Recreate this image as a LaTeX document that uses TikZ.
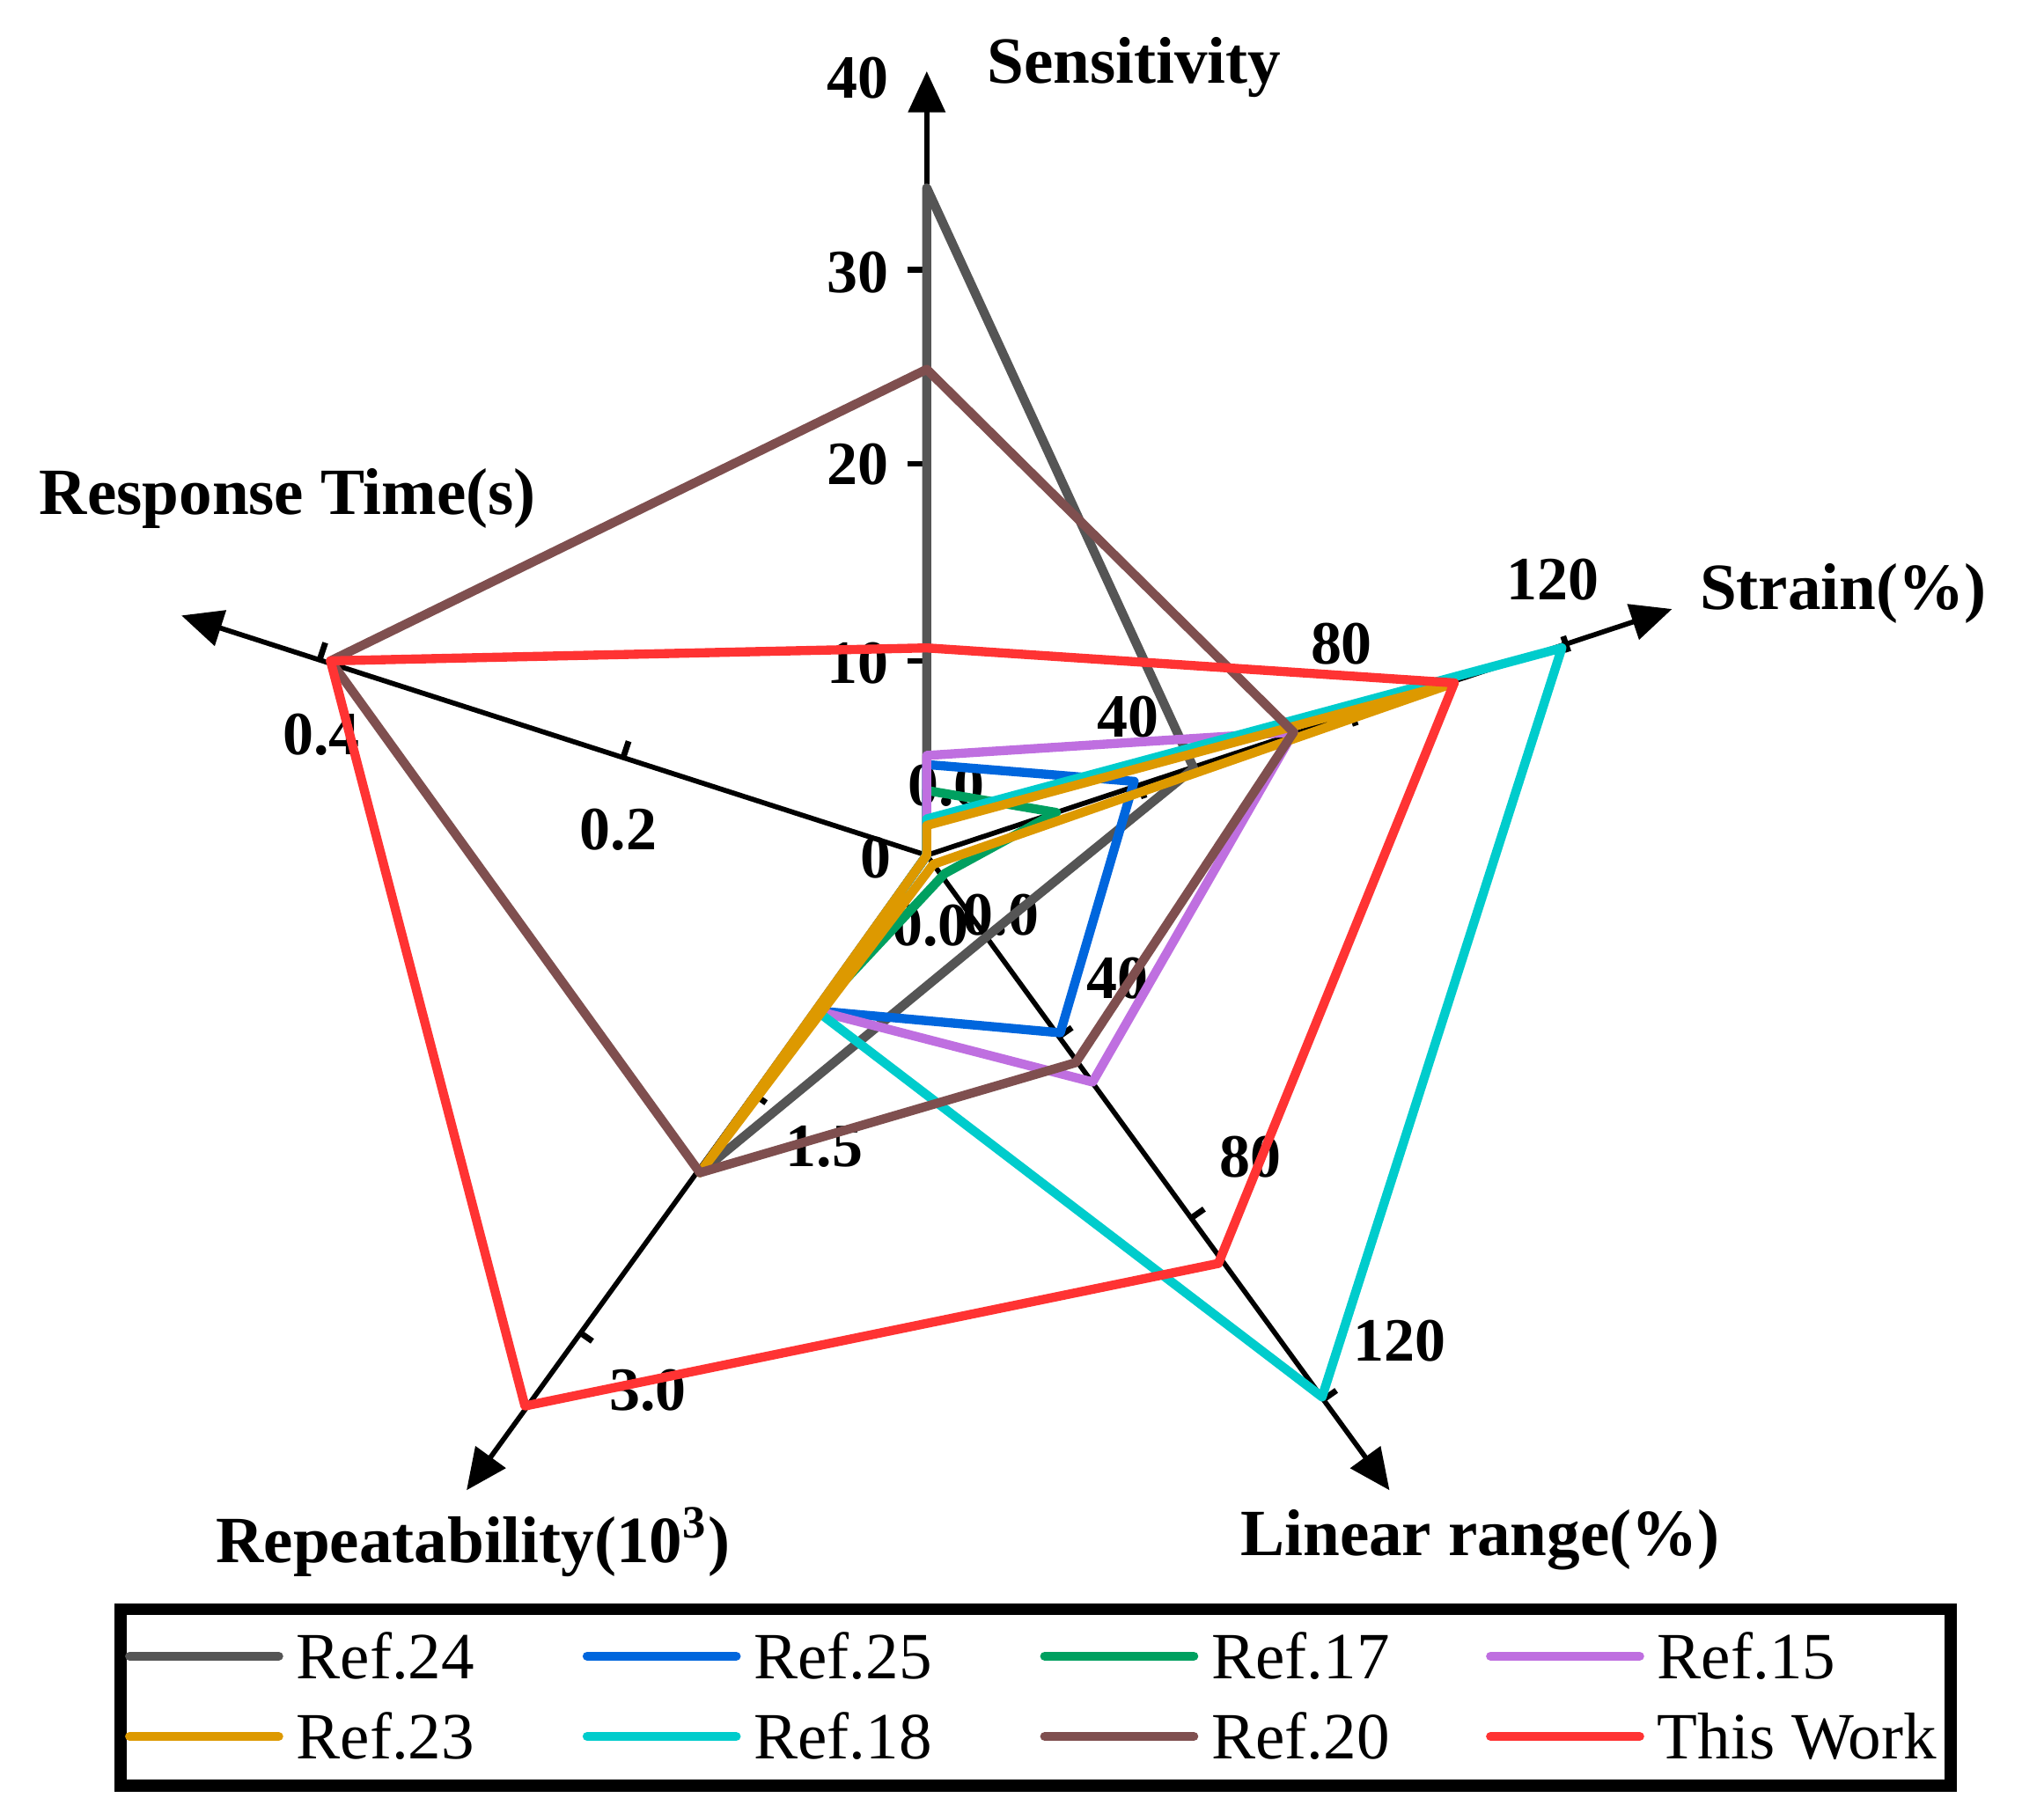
\documentclass[tikz,border=0pt]{standalone}
\usepackage{fontspec}
\setmainfont{Liberation Serif}
\usetikzlibrary{arrows.meta,calc}
\definecolor{cgray}{HTML}{555555}
\definecolor{cblue}{HTML}{0066DD}
\definecolor{cgreen}{HTML}{00A060}
\definecolor{cpurple}{HTML}{BF6FE0}
\definecolor{corange}{HTML}{DD9900}
\definecolor{ccyan}{HTML}{00CCCC}
\definecolor{cbrown}{HTML}{7F4F4F}
\definecolor{cred}{HTML}{FF3333}
\begin{document}
\begin{tikzpicture}[x=0.01cm,y=-0.01cm,
  axis/.style={line width=1.1pt,-{Triangle[length=9pt,width=8pt]}},
  tick/.style={line width=1.3pt},
  tl/.style={font=\bfseries\fontsize{13.5}{13.5}\selectfont,inner sep=0pt},
  al/.style={font=\bfseries\fontsize{14.5}{14.5}\selectfont,inner sep=0pt},
  leg/.style={font=\fontsize{14.5}{14.5}\selectfont,inner sep=0pt,anchor=west},
  data/.style={line width=2pt,line join=round,line cap=round}]
\useasboundingbox (0,0) rectangle (1560,1404);
% axes
\coordinate (O) at (715,660);
\coordinate (tS) at (715,55);
\coordinate (tT) at (1290,470);
\coordinate (tL) at (1072,1150);
\coordinate (tR) at (360,1150);
\coordinate (tP) at (140,475);
% tick labels (behind data)
\node[tl] (s40) at (662,60) {40};
\node[tl] (s30) at (662,210) {30};
\node[tl] (s20) at (662,358) {20};
\node[tl] (s10) at (662,512) {10};
\node[tl] (s0) at (676,662) {0};
\node[tl] (st0) at (730,606) {0.0};
\node[tl] (st40) at (870,553) {40};
\node[tl] (st80) at (1035,497) {80};
\node[tl] (st120) at (1198,447) {120};
\node[tl] (l0) at (772,706) {0.0};
\node[tl] (l40) at (862,755) {40};
\node[tl] (l80) at (965,893) {80};
\node[tl] (l120) at (1080,1035) {120};
\node[tl] (r0) at (718,714) {0.0};
\node[tl] (r15) at (636,885) {1.5};
\node[tl] (r30) at (500,1073) {3.0};
\node[tl] (p2) at (477,640) {0.2};
\node[tl] (p4) at (248,567) {0.4};
\draw[axis] (O) -- (tS);
\draw[axis] (O) -- (tT);
\draw[axis] (O) -- (tL);
\draw[axis] (O) -- (tR);
\draw[axis] (O) -- (tP);
% ticks
\foreach \y in {510,358,208} \draw[tick] (700,\y) -- (715,\y);
\foreach \x/\y in {879/604,1042/548,1206/491} \draw[tick] (\x,\y) -- ++(4,12);
\foreach \x/\y in {817/800,919/940,1021/1080} \draw[tick] (\x,\y) -- ++(10,-7);
\foreach \x/\y in {581/844,447/1028} \draw[tick] (\x,\y) -- ++(10,7);
\foreach \x/\y in {481/584,247/508} \draw[tick] (\x,\y) -- ++(4,-12);
% axis labels
\node[al] (aS) at (875,52) {Sensitivity};
\node[al] (aT) at (1422,458) {Strain(\%)};
\node[al] (aL) at (1142,1188) {Linear range(\%)};
\node[al] (aR) at (365,1190) {Repeatability(10$^{\mathbf 3}$)};
\node[al] (aP) at (222,385) {Response Time(s)};
% data
\draw[data,cgray] (715,145) -- (921,593) -- (761,723) -- (540,905) -- (715,660) -- cycle;
\draw[data,cblue] (715,590) -- (875,603) -- (818,797) -- (630,780) -- (715,660) -- cycle;
\draw[data,cgreen] (715,610) -- (815,627) -- (729,674) -- (630,780) -- (715,660) -- cycle;
\draw[data,cpurple] (715,583) -- (998,565) -- (843,835) -- (630,780) -- (715,660) -- cycle;
\draw[data,ccyan] (715,632) -- (1205,500) -- (1020,1078) -- (630,780) -- (715,660) -- cycle;
\draw[data,corange] (715,637) -- (1122,527) -- (720,667) -- (540,905) -- (715,660) -- cycle;
\draw[data,cbrown] (715,285) -- (998,565) -- (830,820) -- (540,905) -- (255,510) -- cycle;
\draw[data,cred] (715,500) -- (1122,527) -- (940,975) -- (405,1085) -- (255,510) -- cycle;
% legend
\draw[line width=2.6pt] (93,1242) rectangle (1505,1378);
\foreach \c/\x/\y/\t in {cgray/100/1278/Ref.24, cblue/453/1278/Ref.25, cgreen/806/1278/Ref.17, cpurple/1150/1278/Ref.15,
  corange/100/1340/Ref.23, ccyan/453/1340/Ref.18, cbrown/806/1340/Ref.20, cred/1150/1340/This Work}{
  \draw[data,\c] (\x,\y) -- ++(115,0);
  \node[leg] at ($(\x,\y)+(128,0)$) {\t};
}
\end{tikzpicture}
\end{document}
